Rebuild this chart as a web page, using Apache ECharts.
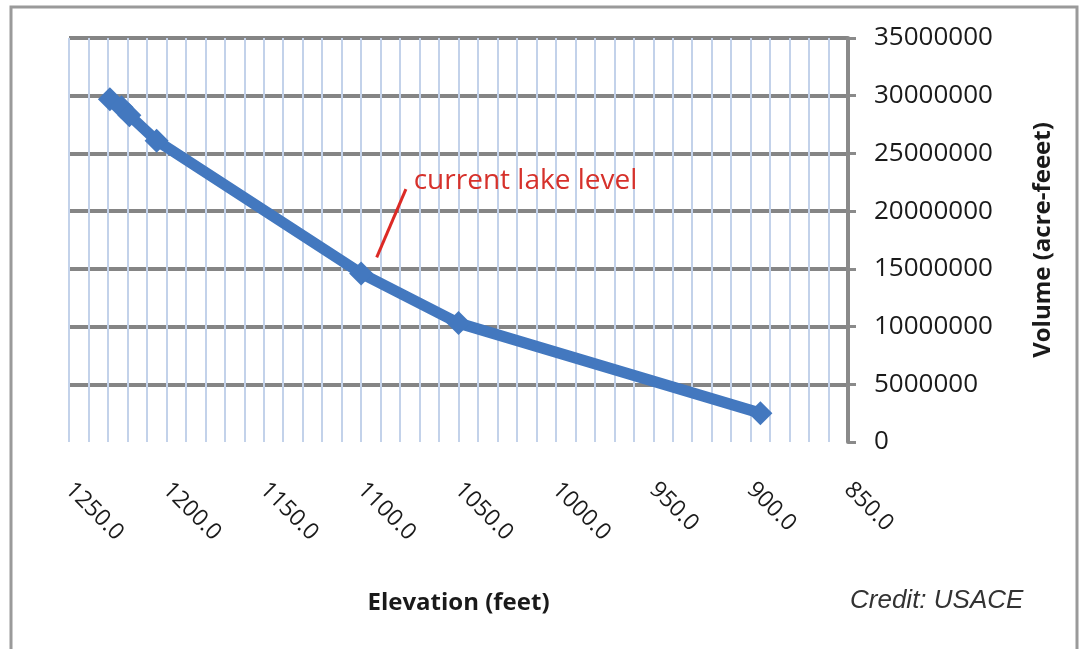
<!DOCTYPE html>
<html>
<head>
<meta charset="utf-8">
<script src="https://cdn.jsdelivr.net/npm/echarts@6/dist/echarts.min.js"></script>
<style>
  html, body { margin: 0; padding: 0; background: #ffffff; }
  #chart { width: 1079px; height: 649px; }
</style>
</head>
<body>
<div id="chart"></div>
<script>
// Lake storage curve: elevation (feet) against stored volume (acre-feet)
const elevation = [1229, 1223, 1219, 1205, 1100, 1050, 895];
const volume = [29700000, 29000000, 28300000, 26100000, 14600000, 10300000, 2500000];

// Annotation pointing at the present lake level
const noteText = 'current lake level';
const notePointer = [[1092, 16000000], [1077, 21900000]];
const noteAnchor = [1073, 22600000];

const fontUI = '"Open Sans", "Noto Sans", sans-serif';

const chart = echarts.init(document.getElementById('chart'));

chart.setOption({
  animation: false,
  backgroundColor: '#ffffff',
  grid: { left: 69, right: 231, top: 38, bottom: 207, containLabel: false },
  xAxis: {
    type: 'value',
    inverse: true,
    min: 850,
    max: 1250,
    interval: 50,
    name: 'Elevation (feet)',
    nameLocation: 'middle',
    nameGap: 149,
    nameTextStyle: { fontFamily: fontUI, fontWeight: 'bold', fontSize: 24, color: '#1a1a1a' },
    axisLine: { show: false },
    axisTick: { show: false },
    axisLabel: {
      rotate: -45,
      margin: 44,
      fontFamily: fontUI,
      fontSize: 23,
      color: '#1a1a1a',
      formatter: v => v.toFixed(1)
    },
    splitLine: { show: true, lineStyle: { color: '#c3d2ea', width: 2 } },
    minorTick: { show: false, splitNumber: 5 },
    minorSplitLine: { show: true, lineStyle: { color: '#c3d2ea', width: 2 } }
  },
  yAxis: {
    type: 'value',
    position: 'right',
    min: 0,
    max: 35000000,
    interval: 5000000,
    name: 'Volume (acre-feeet)',
    nameLocation: 'middle',
    nameRotate: 90,
    nameGap: 183,
    nameTextStyle: { fontFamily: fontUI, fontWeight: 'bold', fontSize: 24, color: '#1a1a1a' },
    axisLine: { show: true, onZero: false, lineStyle: { color: '#8a8a8a', width: 4 } },
    axisTick: { show: true, inside: false, length: 8, lineStyle: { color: '#8a8a8a', width: 3 } },
    axisLabel: {
      margin: 26,
      padding: [6, 0, 0, 0],
      fontFamily: fontUI,
      fontSize: 26,
      color: '#1a1a1a',
      formatter: v => String(v)
    },
    splitLine: { show: true, showMinLine: false, lineStyle: { color: '#858585', width: 4 } }
  },
  series: [
    {
      type: 'line',
      data: elevation.map((e, i) => [e, volume[i]]),
      symbol: 'diamond',
      symbolSize: 24,
      lineStyle: { color: '#4378bf', width: 11 },
      itemStyle: { color: '#4378bf' },
      z: 5
    },
    {
      type: 'line',
      data: notePointer,
      symbol: 'none',
      lineStyle: { color: '#dc2a25', width: 3 },
      silent: true,
      z: 6
    }
  ]
});

// Place the annotation text and frame once the scales exist
const anchorPx = chart.convertToPixel({ gridIndex: 0 }, noteAnchor);
chart.setOption({
  graphic: [
    {
      type: 'rect',
      shape: { x: 11, y: 7, width: 1066, height: 660 },
      style: { fill: 'none', stroke: '#9a9a9a', lineWidth: 3 },
      z: 0,
      silent: true
    },
    {
      type: 'text',
      x: anchorPx[0],
      y: anchorPx[1],
      style: {
        text: noteText,
        fill: '#d6312b',
        font: '28px ' + fontUI,
        textAlign: 'left',
        textVerticalAlign: 'middle'
      },
      z: 10
    },
    {
      type: 'text',
      left: 850,
      top: 588,
      style: {
        text: 'Credit: USACE',
        fill: '#333333',
        font: 'italic 26px "Liberation Sans", Arial, sans-serif'
      },
      z: 10
    }
  ]
});
</script>
</body>
</html>
